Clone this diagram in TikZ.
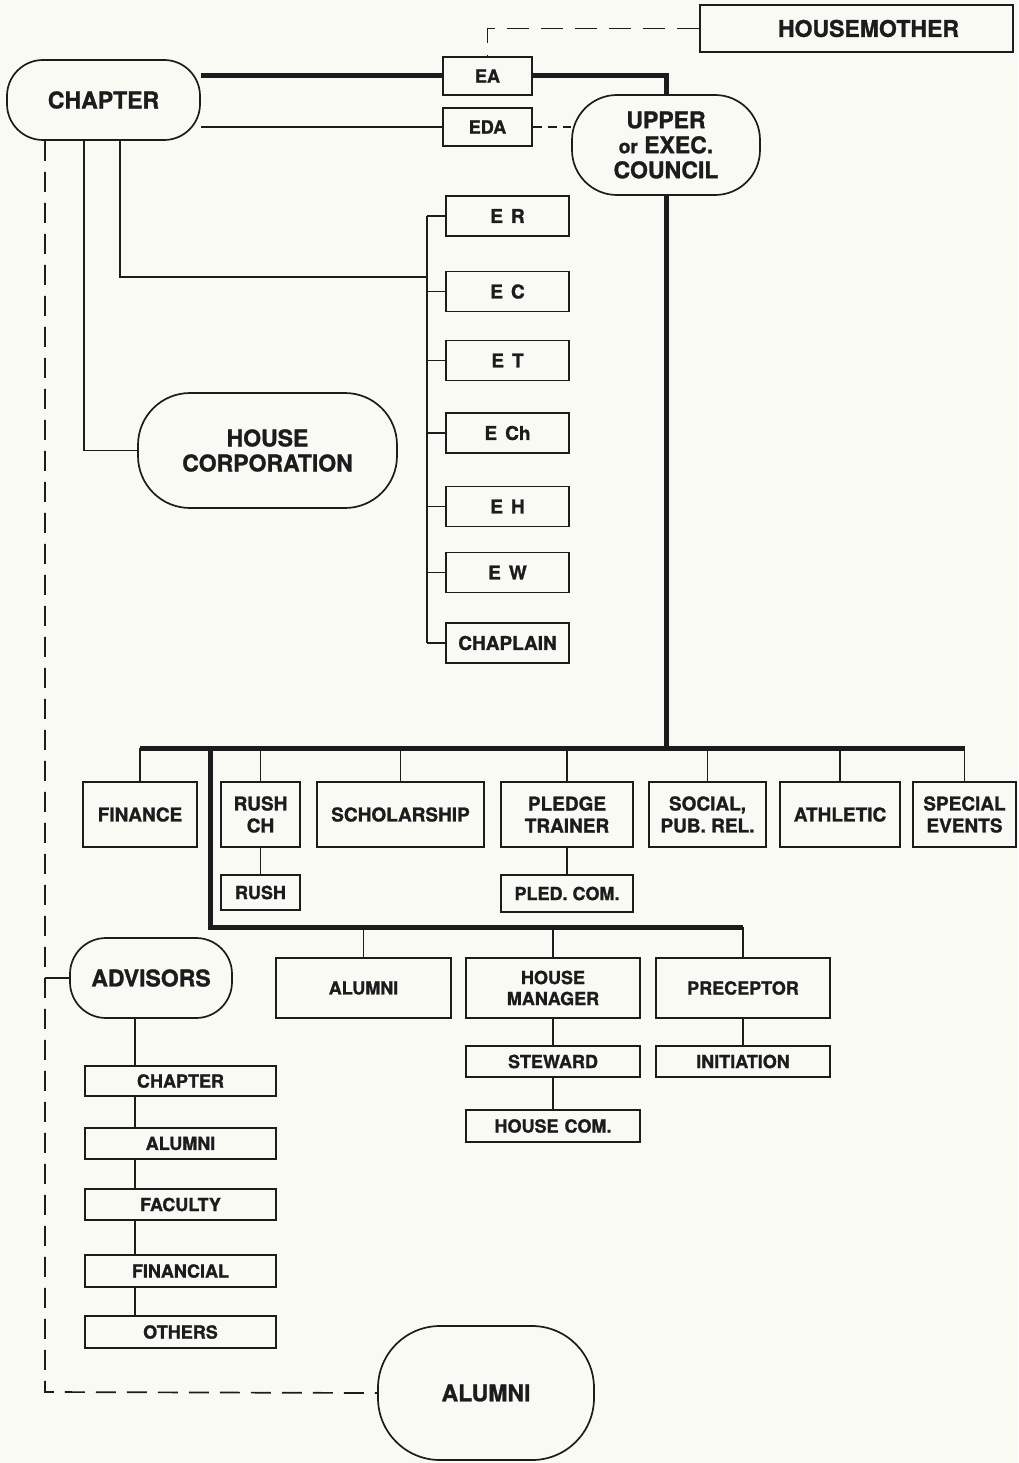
\documentclass[tikz,border=0pt]{standalone}
\usepackage{fontspec}
\setmainfont[BoldFeatures={FakeBold=1.2}]{TeX Gyre Heros}
\definecolor{ink}{HTML}{1C1C1C}
\definecolor{paper}{HTML}{FAFAF5}
\newcommand{\fbig}{\fontsize{23}{25}\selectfont\bfseries}
\newcommand{\fmid}{\fontsize{19}{22}\selectfont\bfseries}
\newcommand{\fsml}{\fontsize{18}{21}\selectfont\bfseries}
\begin{document}
\begin{tikzpicture}[x=1pt,y=-1pt,
  ln/.style={line width=1.7pt, draw=ink},
  thk/.style={line width=5pt, draw=ink},
  dsh/.style={line width=1.7pt, draw=ink, dash pattern=on 20pt off 11pt},
  bx/.style={draw=ink, line width=1.7pt, fill=paper, inner sep=0pt, align=center, font=\fmid, text=ink},
  rb/.style={bx, rounded corners=#1, font=\fbig},
  ebox/.style={bx, minimum width=123pt, minimum height=40pt},
  rowbox/.style={bx, minimum height=65pt},
  row2/.style={bx, minimum width=174pt, minimum height=60pt, font=\fsml},
  subbox/.style={bx, minimum width=174pt, minimum height=31pt, font=\fsml},
  advbox/.style={bx, minimum width=191pt, minimum height=31pt, font=\fsml},
]
\fill[paper] (0,0) rectangle (1018,1463);
\useasboundingbox (0,0) rectangle (1018,1463);

% top
\node[bx, minimum width=313pt, minimum height=47pt, font=\fbig] (hm) at (856.5,28.5) {\hspace*{24pt}HOUSEMOTHER};
\node[rb=36pt, minimum width=193pt, minimum height=80pt] (chapter) at (103.5,100) {CHAPTER};
\node[bx, minimum width=89pt, minimum height=38pt, font=\fsml] (ea) at (487.5,76) {EA};
\node[bx, minimum width=89pt, minimum height=38pt, font=\fsml] (eda) at (487.5,127) {EDA};
\node[rb=45pt, minimum width=188pt, minimum height=100pt] (upper) at (666,145) {UPPER\\{\fontsize{19}{25}\selectfont or} EXEC.\\COUNCIL};
\node[rb=52pt, minimum width=259pt, minimum height=115pt] (hc) at (267.5,450.5) {HOUSE\\CORPORATION};

% E boxes
\node[ebox] (er) at (507.5,216) {E\hspace{8pt}R};
\node[ebox] (ec) at (507.5,291.5) {E\hspace{8pt}C};
\node[ebox] (et) at (507.5,360.5) {E\hspace{8pt}T};
\node[ebox] (ech) at (507.5,433) {E\hspace{8pt}Ch};
\node[ebox] (eh) at (507.5,506.5) {E\hspace{8pt}H};
\node[ebox] (ew) at (507.5,572.5) {E\hspace{8pt}W};
\node[ebox] (chap) at (507.5,643) {CHAPLAIN};

% first row
\node[rowbox, minimum width=114pt] (fin) at (140,814.5) {FINANCE};
\node[rowbox, minimum width=79pt] (rushch) at (260.5,814.5) {RUSH\\CH};
\node[rowbox, minimum width=167pt] (schol) at (400.5,814.5) {SCHOLARSHIP};
\node[rowbox, minimum width=132pt] (pledge) at (567,814.5) {PLEDGE\\TRAINER};
\node[rowbox, minimum width=117pt] (social) at (707.5,814.5) {SOCIAL,\\PUB. REL.};
\node[rowbox, minimum width=120pt] (ath) at (840,814.5) {ATHLETIC};
\node[rowbox, minimum width=103pt] (spec) at (964.5,814.5) {SPECIAL\\EVENTS};
\node[bx, minimum width=79pt, minimum height=35pt, font=\fsml] (rush) at (260.5,892.5) {RUSH};
\node[bx, minimum width=132pt, minimum height=37pt, font=\fsml] (pledcom) at (567,893.5) {PLED.\ COM.};

% second row
\node[row2, minimum width=175pt] (alu2) at (363.5,988) {ALUMNI};
\node[row2] (hman) at (553,988) {HOUSE\\MANAGER};
\node[row2] (prec) at (743,988) {PRECEPTOR};
\node[subbox] (stew) at (553,1061.5) {STEWARD};
\node[subbox, minimum height=32pt] (hcom) at (553,1126) {HOUSE\hspace{6pt}COM.};
\node[subbox] (init) at (743,1061.5) {INITIATION};

% advisors
\node[rb=36pt, minimum width=162pt, minimum height=80pt] (adv) at (151,978) {ADVISORS};
\node[advbox, minimum height=30pt] (ach) at (180.5,1081) {CHAPTER};
\node[advbox] (aal) at (180.5,1143.5) {ALUMNI};
\node[advbox] (afa) at (180.5,1204.5) {FACULTY};
\node[advbox, minimum height=32pt] (afi) at (180.5,1271) {FINANCIAL};
\node[advbox, minimum height=32pt] (aot) at (180.5,1332) {OTHERS};

\node[rb=62pt, minimum width=216pt, minimum height=134pt] (alub) at (486,1393) {ALUMNI};

% coordinates
\coordinate (barL) at (145,748);
\coordinate (bar2) at (210,927);
\coordinate (sp) at (427,277);
\coordinate (dl) at (45,1392);
\coordinate (ax) at (135,1000);

% top connectors
\draw[dsh, dash pattern=on 22pt off 12pt] (hm.west) -| (ea.north);
\draw[thk] (ea.west) -- (ea.west -| chapter.east);
\draw[thk] (ea.east) -| (upper.north);
\draw[ln] (eda.west) -- (eda.west -| chapter.east);
\draw[dsh, dash pattern=on 9pt off 6pt] (eda.east) -- (eda.east -| upper.west);
\draw[thk] (upper.south) -- (upper.south |- barL);

% chapter down lines
\draw[dsh] (dl |- chapter.south) -- (dl) -- (alub.west);
\draw[ln] (adv.west) -- (adv.west -| dl);
\draw[ln] ([xshift=-19.5pt]chapter.south) |- (hc.west);
\draw[ln] ([xshift=16.5pt]chapter.south) |- (sp);
\draw[ln] (er.west -| sp) -- (chap.west -| sp);
\foreach \n in {er,ec,et,ech,eh,ew,chap} \draw[ln] (\n.west) -- (\n.west -| sp);

% first bar
\draw[thk] (fin.north |- barL) -- (spec.north |- barL);
\foreach \n in {fin,rushch,schol,pledge,social,ath,spec} \draw[ln] (\n.north) -- (\n.north |- barL);
\draw[ln] (rushch.south) -- (rush.north);
\draw[ln] (pledge.south) -- (pledcom.north);

% second bar
\draw[thk] (bar2 |- barL) -- (bar2) -- (prec.north |- bar2);
\foreach \n in {alu2,hman,prec} \draw[ln] (\n.north) -- (\n.north |- bar2);
\draw[ln] (hman.south) -- (stew.north);
\draw[ln] (stew.south) -- (hcom.north);
\draw[ln] (prec.south) -- (init.north);

% advisors chain
\draw[ln] (adv.south -| ax) -- (ach.north -| ax);
\draw[ln] (ach.south -| ax) -- (aal.north -| ax);
\draw[ln] (aal.south -| ax) -- (afa.north -| ax);
\draw[ln] (afa.south -| ax) -- (afi.north -| ax);
\draw[ln] (afi.south -| ax) -- (aot.north -| ax);
\end{tikzpicture}
\end{document}
